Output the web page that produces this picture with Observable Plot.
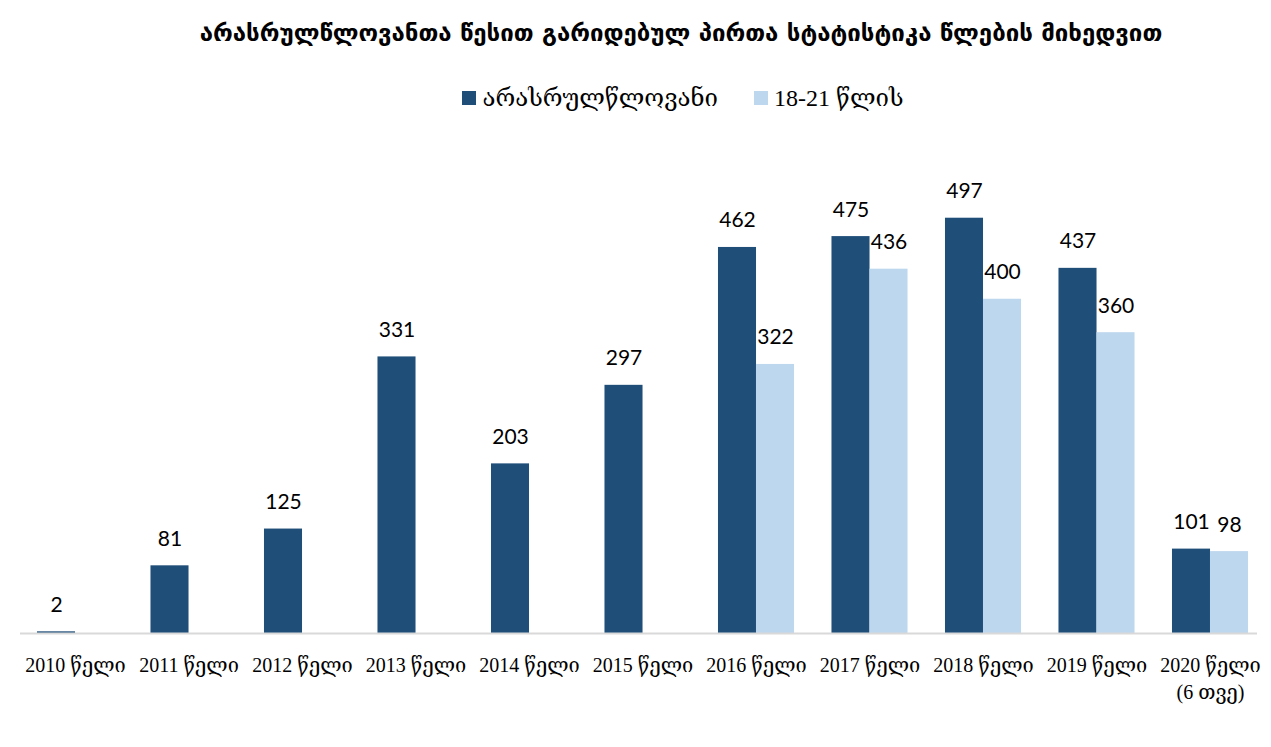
<!DOCTYPE html>
<html>
<head>
<meta charset="utf-8">
<script src="https://cdn.jsdelivr.net/npm/d3@7"></script>
<script src="https://cdn.jsdelivr.net/npm/@observablehq/plot@0.6"></script>
<style>
  html, body { margin: 0; padding: 0; background: #fff; }
  #wrap { width: 1271px; }
  #head { position: relative; height: 120px; width: 1271px; }
  #title { position: absolute; left: 0; width: 1362px; top: 15px; text-align: center;
    font-family: "DejaVu Sans", sans-serif; font-weight: bold; font-size: 24px; color: #000; line-height: 36px; }
  #legend { position: absolute; left: 0; width: 1366px; top: 83px; text-align: center;
    font-family: "Liberation Serif", "DejaVu Serif", serif; font-size: 24px; color: #000; line-height: 30px; }
  .sw { display: inline-block; width: 14px; height: 14px; margin-right: 6px; vertical-align: 1px; }
  .item { display: inline-block; margin: 0 18px; }
</style>
</head>
<body>
<div id="wrap">
  <div id="head">
    <div id="title"></div>
    <div id="legend"></div>
  </div>
  <div id="chart"></div>
</div>
<script>
const titleText = "არასრულწლოვანთა წესით გარიდებულ პირთა სტატისტიკა წლების მიხედვით";
const seriesNames = ["არასრულწლოვანი", "18-21 წლის"];
const seriesColors = ["#1F4E79", "#BDD7EE"];
const years = ["2010", "2011", "2012", "2013", "2014", "2015", "2016", "2017", "2018", "2019", "2020"];
const tickLabels = ["2010 წელი", "2011 წელი", "2012 წელი", "2013 წელი", "2014 წელი", "2015 წელი",
  "2016 წელი", "2017 წელი", "2018 წელი", "2019 წელი", "2020 წელი\n(6 თვე)"];
const minors = [2, 81, 125, 331, 203, 297, 462, 475, 497, 437, 101];
const youth = [null, null, null, null, null, null, 322, 436, 400, 360, 98];

document.getElementById("title").textContent = titleText;
const leg = document.getElementById("legend");
seriesNames.forEach((n, i) => {
  const s = document.createElement("span");
  s.className = "item";
  s.innerHTML = `<span class="sw" style="background:${seriesColors[i]}"></span>${n}`;
  leg.appendChild(s);
});

const data = years.map((y, i) => ({ year: y, minor: minors[i], youth: youth[i] }));
const dataY = data.filter(d => d.youth != null);
const labelOf = Object.fromEntries(years.map((y, i) => [y, tickLabels[i]]));
const labelFont = "Lato, 'Open Sans', sans-serif";

const chart = Plot.plot({
  width: 1271,
  height: 627,
  marginTop: 20,
  marginBottom: 114,
  marginLeft: 20,
  marginRight: 14,
  style: { fontFamily: "'Liberation Serif', 'DejaVu Serif', serif", background: "#fff" },
  x: { type: "band", domain: years, range: [18.25, 1266.75], paddingInner: 0.33, paddingOuter: 0.165, round: false, axis: null },
  y: { domain: [0, 590], axis: null },
  marks: [
    Plot.barY(data, { x: "year", y: "minor", fill: seriesColors[0], insetRight: 38 }),
    Plot.barY(dataY, { x: "year", y: "youth", fill: seriesColors[1], insetLeft: 38 }),
    Plot.ruleY([0], { stroke: "#d9d9d9", strokeWidth: 2 }),
    Plot.text(data, { x: "year", y: "minor", text: d => String(d.minor), dx: -19, dy: -20,
      lineAnchor: "bottom", fontSize: 21, fontFamily: labelFont, fill: "#000" }),
    Plot.text(dataY, { x: "year", y: "youth", text: d => String(d.youth), dx: 19, dy: -20,
      lineAnchor: "bottom", fontSize: 21, fontFamily: labelFont, fill: "#000" }),
    Plot.axisX({ tickSize: 0, tickPadding: 19, fontSize: 20, lineHeight: 1.35, label: null,
      tickFormat: d => labelOf[d], fill: "#000" })
  ]
});
document.getElementById("chart").appendChild(chart);
</script>
</body>
</html>
